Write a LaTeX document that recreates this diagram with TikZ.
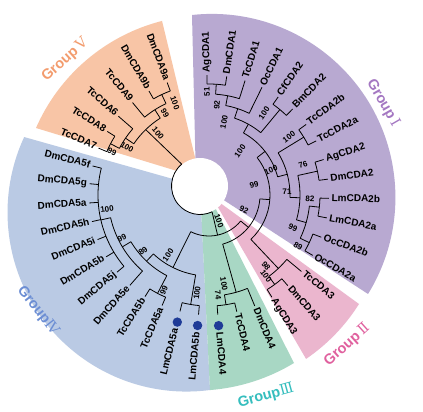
\documentclass[tikz,border=0pt]{standalone}
\usepackage{fontspec}
\setmainfont{Liberation Sans}
\newfontfamily\romfont{DejaVu Serif}
\usetikzlibrary{calc}
\definecolor{fV}{HTML}{F8C5A6}
\definecolor{fI}{HTML}{B8A9D1}
\definecolor{fII}{HTML}{EBB6CE}
\definecolor{fIII}{HTML}{A8D7C4}
\definecolor{fIV}{HTML}{BACAE4}
\definecolor{tV}{HTML}{F39C6E}
\definecolor{tI}{HTML}{A477C2}
\definecolor{tII}{HTML}{E0609E}
\definecolor{tIII}{HTML}{35BEBE}
\definecolor{tIV}{HTML}{6C8ED4}
\definecolor{dotc}{HTML}{1F3B97}
\newcommand{\Rtip}{120}
\newcommand{\Rlab}{122.5}
\newcommand{\leafR}[4]{%
  \coordinate (#1) at ($(T)+(#2:\Rtip)$);
  \coordinate (#1f) at ($(T)+(#2:#3)$);
  \draw[tree] (#1f) -- (#1);
  \node[lab,anchor=mid west,rotate=#2] (#1t) at ($(T)+(#2:\Rlab)$) {#4};}
\newcommand{\leafL}[4]{%
  \coordinate (#1) at ($(T)+(#2:\Rtip)$);
  \coordinate (#1f) at ($(T)+(#2:#3)$);
  \draw[tree] (#1f) -- (#1);
  \node[lab,anchor=mid east,rotate=#2+180] (#1t) at ($(T)+(#2:\Rlab)$) {#4};}
\newcommand{\inode}[6]{%
  \coordinate (#1) at ($(T)+(#2:#3)$);
  \coordinate (#1f) at ($(T)+(#2:#4)$);
  \draw[tree] (#1f) -- (#1);
  \draw[tree] ($(T)+(#5:#3)$) arc[start angle=#5,end angle=#6,radius=#3];}
\begin{document}
\begin{tikzpicture}[x=1pt,y=1pt,
  tree/.style={line width=0.8pt},
  lab/.style={font=\bfseries\fontsize{10}{10}\selectfont,inner sep=0pt},
  bs/.style={font=\bfseries\fontsize{8}{8}\selectfont,inner sep=0pt},
  grp/.style={font=\bfseries\fontsize{14.5}{14.5}\selectfont,inner sep=0pt},
  dot/.style={circle,fill=dotc,inner sep=0pt,minimum size=9.4pt}]
\fill[white] (0,0) rectangle (423,-412);
\useasboundingbox (0,0) rectangle (423,-412);
\coordinate (T) at (209,-195);
\coordinate (W) at (200,-186);
% wedges
\fill[fIV] (200,-186.6) -- (210,-390) arc[start angle=-82.5,end angle=-204.9,radius=179.1] -- cycle;
\fill[fIII] (199.5,-177) -- (294,-363) arc[start angle=-58.8,end angle=-85.5,radius=191.2] -- cycle;
\fill[fII] (212,-197) -- (359,-304) arc[start angle=-32.2,end angle=-55.7,radius=187.3] -- cycle;
\fill[fI] (196,-182) -- (192,-15) arc[start angle=96.2,end angle=-31.7,radius=183.6] -- cycle;
\fill[fV] (200,-178) -- (36,-128) arc[start angle=156.4,end angle=104.3,radius=188.3] -- cycle;
\node[circle,fill=white,minimum size=56pt,inner sep=0pt] (hole) at (W) {};
% root
\coordinate (rootS) at ($(W)+(130:28.5)$);
\coordinate (rootE) at ($(W)+(295:28.5)$);
\draw[tree] (rootS) arc[start angle=130,end angle=295,radius=28.5];
% Group I internal
\inode{nA51}{86.25}{111}{101}{81.5}{91}
\inode{nA92}{79.375}{101}{91}{72.5}{86.25}
\inode{nA100}{71.59}{91}{81}{63.8}{79.375}
\inode{nCfBm}{50.3}{111}{81}{45.8}{54.8}
\inode{nP}{60.94}{81}{71}{50.3}{71.59}
\inode{nTc2}{31.4}{111}{81}{26.8}{36}
\inode{n76}{12.4}{111}{91}{7.6}{17.2}
\inode{n82}{-6.3}{111}{101}{-11}{-1.6}
\inode{n89}{-25.4}{111}{101}{-30.2}{-20.6}
\inode{n99c}{-15.85}{101}{91}{-25.4}{-6.3}
\inode{nX1}{-1.725}{91}{81}{-15.85}{12.4}
\inode{nQ}{14.84}{81}{71}{-1.725}{31.4}
\inode{nG1}{37.89}{71}{61}{14.84}{60.94}
% Group II
\inode{nDA3}{-53.7}{111}{101}{-58.4}{-49}
\inode{nG2}{-46.65}{101}{61}{-53.7}{-39.6}
\inode{nZ}{-4.38}{61}{51}{-46.65}{37.89}
% Group III
\inode{n74}{-81.2}{111}{101}{-85.8}{-76.6}
\inode{nG3}{-74.4}{101}{51}{-81.2}{-67.6}
\inode{nY}{-39.39}{51}{41}{-74.4}{-4.38}
% Group IV
\inode{nLm5}{-99.5}{111}{81}{-104}{-95}
\inode{nTc5}{-117.6}{111}{91}{-122.2}{-113}
\inode{nPoly}{-167}{111}{101}{-194}{-140}
\inode{n99a}{-149.1}{101}{91}{-167}{-131.2}
\inode{n89b}{-133.35}{91}{81}{-149.1}{-117.6}
\inode{nG4}{-116.43}{81}{41}{-133.35}{-99.5}
\coordinate (nX) at ($(T)+(-77.91:41)$);
\draw[tree] (rootE) -- (nX);
\draw[tree] ($(T)+(-116.43:41)$) arc[start angle=-116.43,end angle=-39.39,radius=41];
% Group V
\inode{nV1}{-207.5}{111}{101}{-212}{-203}
\inode{nV2}{-214.25}{101}{91}{-221}{-207.5}
\inode{nV3}{-244.8}{111}{101}{-249.6}{-240}
\inode{nV4}{-237.6}{101}{91}{-244.8}{-230.4}
\coordinate (nV5) at ($(T)+(-225.93:91)$);
\draw[tree] (rootS) -- (nV5);
\draw[tree] ($(T)+(-237.6:91)$) arc[start angle=-237.6,end angle=-214.25,radius=91];
% leaves
\leafR{AgCDA1}{91}{111}{AgCDA1}
\leafR{DmCDA1}{81.5}{111}{DmCDA1}
\leafR{TcCDA1}{72.5}{101}{TcCDA1}
\leafR{OcCDA1}{63.8}{91}{OcCDA1}
\leafR{CfCDA2}{54.8}{111}{CfCDA2}
\leafR{BmCDA2}{45.8}{111}{BmCDA2}
\leafR{TcCDA2b}{36}{111}{TcCDA2b}
\leafR{TcCDA2a}{26.8}{111}{TcCDA2a}
\leafR{AgCDA2}{17.2}{111}{AgCDA2}
\leafR{DmCDA2}{7.6}{111}{DmCDA2}
\leafR{LmCDA2b}{-1.6}{111}{LmCDA2b}
\leafR{LmCDA2a}{-11}{111}{LmCDA2a}
\leafR{OcCDA2b}{-20.6}{111}{OcCDA2b}
\leafR{OcCDA2a}{-30.2}{111}{OcCDA2a}
\leafR{TcCDA3}{-39.6}{101}{TcCDA3}
\leafR{DmCDA3}{-49}{111}{DmCDA3}
\leafR{AgCDA3}{-58.4}{111}{AgCDA3}
\leafR{DmCDA4}{-67.6}{101}{DmCDA4}
\leafR{TcCDA4}{-76.6}{111}{TcCDA4}
\coordinate (LmCDA4) at ($(T)+(-85.8:\Rtip)$);
\coordinate (LmCDA4f) at ($(T)+(-85.8:111)$);
\draw[tree] (LmCDA4f) -- (LmCDA4);
\node[dot] (LmCDA4d) at ($(T)+(-85.8:131)$) {};
\node[lab,anchor=mid west,rotate=-85.8] (LmCDA4t) at ($(T)+(-85.8:137.5)$) {LmCDA4};
\coordinate (LmCDA5b) at ($(T)+(-95:\Rtip)$);
\coordinate (LmCDA5bf) at ($(T)+(-95:111)$);
\draw[tree] (LmCDA5bf) -- (LmCDA5b);
\node[dot] (LmCDA5bd) at ($(T)+(-95:131)$) {};
\node[lab,anchor=mid east,rotate=85] (LmCDA5bt) at ($(T)+(-95:137.5)$) {LmCDA5b};
\coordinate (LmCDA5a) at ($(T)+(-104:\Rtip)$);
\coordinate (LmCDA5af) at ($(T)+(-104:111)$);
\draw[tree] (LmCDA5af) -- (LmCDA5a);
\node[dot] (LmCDA5ad) at ($(T)+(-104:131)$) {};
\node[lab,anchor=mid east,rotate=76] (LmCDA5at) at ($(T)+(-104:137.5)$) {LmCDA5a};
\leafL{TcCDA5a}{-113}{111}{TcCDA5a}
\leafL{TcCDA5b}{-122.2}{111}{TcCDA5b}
\leafL{DmCDA5e}{-131.2}{101}{DmCDA5e}
\leafL{DmCDA5j}{-140}{111}{DmCDA5j}
\leafL{DmCDA5b}{-149}{111}{DmCDA5b}
\leafL{DmCDA5i}{-158.2}{111}{DmCDA5i}
\leafL{DmCDA5h}{-167.2}{111}{DmCDA5h}
\leafL{DmCDA5a}{-176.2}{111}{DmCDA5a}
\leafL{DmCDA5g}{-185.4}{111}{DmCDA5g}
\leafL{DmCDA5f}{-194}{111}{DmCDA5f}
\leafL{TcCDA7}{-203}{111}{TcCDA7}
\leafL{TcCDA8}{-212}{111}{TcCDA8}
\leafL{TcCDA6}{-221}{101}{TcCDA6}
\leafL{TcCDA9}{-230.4}{101}{TcCDA9}
\leafL{DmCDA9b}{-240}{111}{DmCDA9b}
\leafL{DmCDA9a}{-249.6}{111}{DmCDA9a}
% bootstrap values
\node[bs,rotate=-23.9] (bV1) at (112,-152) {99};
\node[bs,rotate=-30.3] (bV2) at (127,-147) {100};
\node[bs,rotate=-69.7] (bV3) at (175,-103) {100};
\node[bs,rotate=-61.8] (bV4) at (165,-113) {99};
\node[bs,rotate=-50.6] (bV5) at (158,-133) {100};
\node[bs,rotate=7.8] (bPoly) at (107,-209) {100};
\node[bs,rotate=26.3] (b99a) at (122,-238) {99};
\node[bs,rotate=40.3] (b89b) at (143,-251) {89};
\node[bs,rotate=55.7] (bG4) at (168,-255) {100};
\node[bs,rotate=64.7] (bTc5) at (164,-290) {99};
\node[bs,rotate=83] (bLm5) at (197,-293) {100};
\node[bs,rotate=-80.4] (bG3) at (224,-284) {100};
\node[bs,rotate=-84.9] (b74) at (218,-295) {74};
\node[bs,rotate=-51.2] (bG2) at (266,-266) {98};
\node[bs,rotate=-54.9] (bDA3) at (266,-276) {100};
\node[bs,rotate=-69] (bX) at (219,-221) {100};
\node[bs,rotate=-23.2] (bY) at (244,-210) {92};
\node[bs,rotate=12.5] (bZ) at (254,-185) {99};
\node[bs,rotate=54.8] (bG1) at (240,-151) {100};
\node[bs,rotate=91.1] (bA51) at (207,-92) {51};
\node[bs,rotate=84.9] (bA92) at (217,-105) {92};
\node[bs,rotate=78.4] (bA100) at (224,-122) {100};
\node[bs,rotate=56.1] (bCfBm) at (264,-113) {100};
\node[bs,rotate=35.9] (bTc2) at (289,-137) {100};
\node[bs,rotate=17.7] (b76) at (303,-165) {76};
\node[bs,rotate=22] (bQ) at (271,-170) {100};
\node[bs,rotate=2.2] (bX1) at (287,-192) {71};
\node[bs,rotate=-2.3] (b82) at (310,-199) {82};
\node[bs,rotate=-21.4] (b99c) at (293,-228) {99};
\node[bs,rotate=-29.8] (b89) at (298,-246) {89};
% group labels
\node[grp,text=tI,rotate=-60] (gI) at (383,-103) {Group\,{\romfont\mdseries Ⅰ}};
\node[grp,text=tII,rotate=42] (gII) at (347,-345) {Group\,{\romfont\mdseries Ⅱ}};
\node[grp,text=tIII,rotate=15.5] (gIII) at (266,-396) {Group{\romfont\mdseries Ⅲ}};
\node[grp,text=tIV,rotate=-52] (gIV) at (38,-311) {Group{\romfont\mdseries Ⅳ}};
\node[grp,text=tV,rotate=42] (gV) at (65,-60) {Group\,{\romfont\mdseries Ⅴ}};
\end{tikzpicture}
\end{document}
